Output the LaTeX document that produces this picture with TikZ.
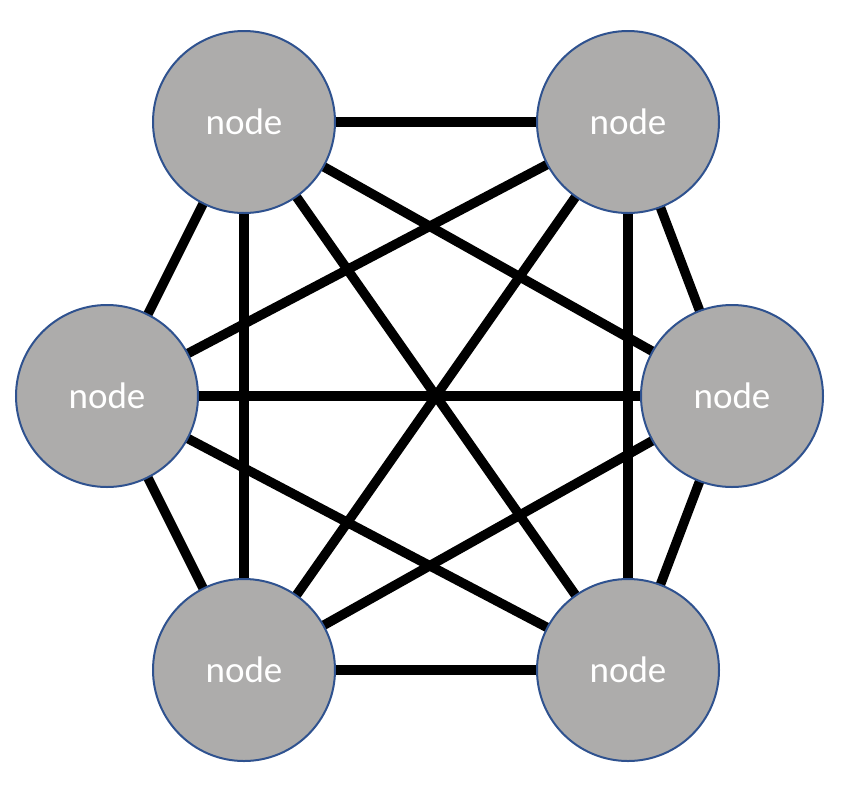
\documentclass[tikz,border=0pt]{standalone}
\usepackage{fontspec}
\setmainfont{Carlito}
\usetikzlibrary{backgrounds}
\definecolor{nodefill}{RGB}{173,172,171}
\definecolor{nodeedge}{RGB}{47,82,143}
\begin{document}
\begin{tikzpicture}[x=1pt,y=-1pt,
  peer/.style={circle,draw=nodeedge,line width=2pt,fill=nodefill,
    minimum size=182pt,inner sep=0pt,text=white,
    font=\fontsize{37}{44}\selectfont},
  link/.style={line width=9.5pt,black}]
\useasboundingbox (0,0) rectangle (854,796);
% six peers of a fully connected mesh
\node[peer] (tl) at (244,122) {node};
\node[peer] (tr) at (628,122) {node};
\node[peer] (l)  at (107,396) {node};
\node[peer] (r)  at (732,396) {node};
\node[peer] (bl) at (244,670) {node};
\node[peer] (br) at (628,670) {node};
% every pair is linked, drawn beneath the circles
\begin{scope}[on background layer]
\foreach \a/\b in {tl/tr,tl/l,tl/r,tl/bl,tl/br,
                   tr/l,tr/r,tr/bl,tr/br,
                   l/r,l/bl,l/br,
                   r/bl,r/br,
                   bl/br}
  \draw[link] (\a.center) -- (\b.center);
\end{scope}
\end{tikzpicture}
\end{document}
